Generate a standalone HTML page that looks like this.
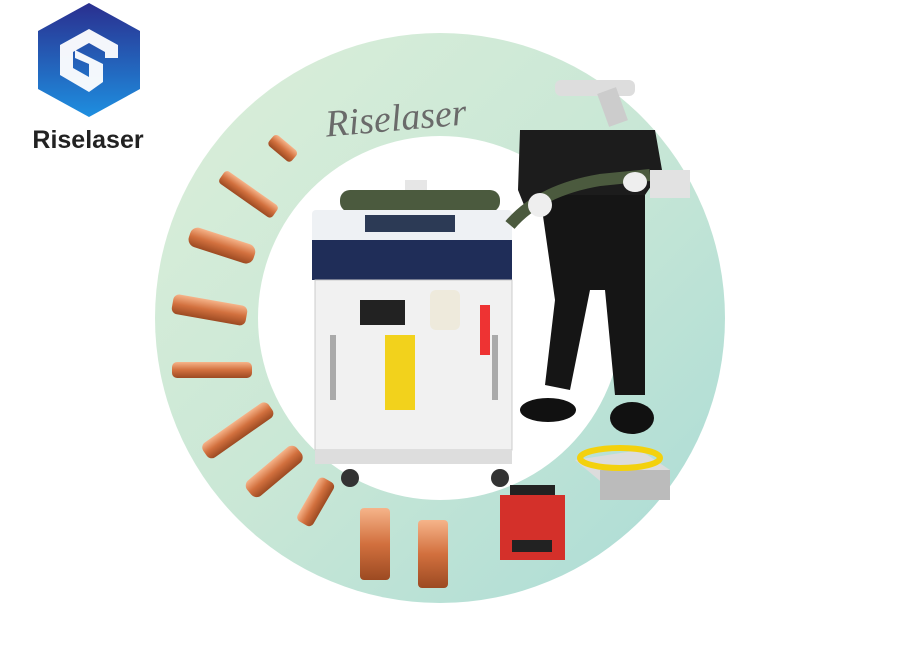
<!DOCTYPE html>
<html><head><meta charset="utf-8"><style>
html,body{margin:0;padding:0;background:#fff;width:910px;height:650px;overflow:hidden}
svg{display:block}
</style></head><body>
<svg width="910" height="650" viewBox="0 0 910 650" xmlns="http://www.w3.org/2000/svg">
<defs>
<linearGradient id="ring" x1="0" y1="0" x2="1" y2="1">
<stop offset="0" stop-color="#dcefd9"/><stop offset="0.5" stop-color="#c9e7d6"/><stop offset="1" stop-color="#a9dbd6"/>
</linearGradient>
<linearGradient id="hex" x1="0" y1="0" x2="0" y2="1">
<stop offset="0" stop-color="#2a2f8f"/><stop offset="1" stop-color="#1e8fe0"/>
</linearGradient>
<linearGradient id="cu" x1="0" y1="0" x2="0" y2="1">
<stop offset="0" stop-color="#f6b48a"/><stop offset="0.5" stop-color="#d2703e"/><stop offset="1" stop-color="#9c4a22"/>
</linearGradient>
</defs>
<circle cx="440" cy="318" r="285" fill="url(#ring)"/>
<circle cx="440" cy="318" r="182" fill="#fff"/>
<polygon points="89,3 140,31 140,89 89,117 38,89 38,31" fill="url(#hex)"/>
<path d="M60,45 L89,29 L118,45 L118,58 L105,58 L105,52 L89,43 L73,52 L73,68 L89,77 L89,64 L75,58 L75,50 L103,64 L103,82 L89,92 L60,75 Z" fill="#fff" opacity="0.95"/>
<text x="88" y="148" text-anchor="middle" font-family="Liberation Sans, sans-serif" font-weight="bold" font-size="25" fill="#222">Riselaser</text>
<text x="325" y="128" font-family="Liberation Serif, serif" font-style="italic" font-size="38" fill="#6a6a6a" transform="rotate(-5 425 115)">Riselaser</text>
<rect x="555" y="80" width="80" height="16" rx="6" fill="#ddd"/>
<rect x="600" y="90" width="20" height="35" fill="#ccc" transform="rotate(-20 610 100)"/>
<g fill="url(#cu)">
<rect x="266" y="140" width="30" height="14" rx="4" transform="rotate(40 280 150)"/>
<rect x="215" y="185" width="65" height="15" rx="4" transform="rotate(35 245 195)"/>
<rect x="188" y="235" width="68" height="20" rx="8" transform="rotate(18 220 245)"/>
<rect x="172" y="300" width="75" height="20" rx="6" transform="rotate(10 210 310)"/>
<rect x="172" y="362" width="80" height="16" rx="5"/>
<rect x="198" y="420" width="80" height="18" rx="6" transform="rotate(-35 240 430)"/>
<rect x="243" y="465" width="65" height="20" rx="7" transform="rotate(-40 270 475)"/>
<rect x="293" y="495" width="50" height="18" rx="5" transform="rotate(-60 315 505)"/>
<rect x="360" y="508" width="30" height="72" rx="4"/>
<rect x="418" y="520" width="30" height="68" rx="4"/>
</g>
<rect x="405" y="180" width="22" height="35" fill="#e6e6e6"/>
<rect x="340" y="190" width="160" height="22" rx="10" fill="#4b5a3e"/>
<rect x="312" y="210" width="200" height="35" rx="4" fill="#eef1f4"/>
<rect x="365" y="215" width="90" height="17" fill="#2c3a55"/>
<rect x="312" y="240" width="200" height="40" fill="#1f2d58"/>
<rect x="315" y="280" width="197" height="170" fill="#f1f1f1" stroke="#ccc"/>
<rect x="360" y="300" width="45" height="25" fill="#222"/>
<rect x="430" y="290" width="30" height="40" rx="6" fill="#eeeadc"/>
<rect x="385" y="335" width="30" height="75" fill="#f2d21c"/>
<rect x="480" y="305" width="10" height="50" fill="#e33"/>
<rect x="330" y="335" width="6" height="65" fill="#aaa"/>
<rect x="492" y="335" width="6" height="65" fill="#aaa"/>
<rect x="315" y="450" width="197" height="14" fill="#ddd"/>
<circle cx="350" cy="478" r="9" fill="#333"/>
<circle cx="500" cy="478" r="9" fill="#333"/>
<!-- person -->
<path d="M520,130 L655,130 L662,170 L645,195 L640,200 L535,200 L528,215 L518,190 Z" fill="#1c1c1c"/>
<path d="M540,195 L645,195 L645,395 L615,395 L605,290 L590,290 L570,390 L545,385 L555,300 Z" fill="#151515"/>
<path d="M510,225 Q540,190 600,180 L650,175" stroke="#4b5a3e" stroke-width="12" fill="none"/>
<ellipse cx="540" cy="205" rx="12" ry="12" fill="#eee"/>
<ellipse cx="635" cy="182" rx="12" ry="10" fill="#eee"/>
<rect x="650" y="170" width="40" height="28" fill="#e2e2e2"/>
<ellipse cx="548" cy="410" rx="28" ry="12" fill="#111"/>
<ellipse cx="632" cy="418" rx="22" ry="16" fill="#111"/>
<polygon points="575,460 640,450 670,470 605,485" fill="#dcdcdc"/>
<rect x="600" y="470" width="70" height="30" fill="#bbb"/>
<ellipse cx="620" cy="458" rx="40" ry="10" fill="none" stroke="#f3d10d" stroke-width="6"/>
<rect x="500" y="495" width="65" height="65" fill="#d4302a"/>
<rect x="510" y="485" width="45" height="10" fill="#222"/>
<rect x="512" y="540" width="40" height="12" fill="#222"/>
</svg>
</body></html>
